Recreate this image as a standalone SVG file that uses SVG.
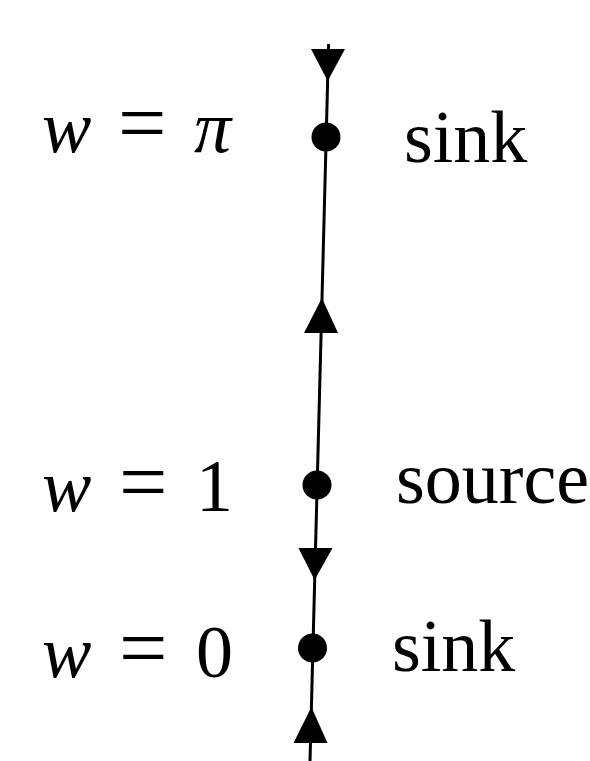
<svg xmlns="http://www.w3.org/2000/svg" width="590" height="761" viewBox="0 0 590 761">
<style>
.bg{fill:#ffffff}
.axis{stroke:#000;stroke-width:3;fill:none}
.arr{fill:#000}
.dot{fill:#000}
.lbl{font-family:"Liberation Serif","DejaVu Serif",serif;font-size:74px;fill:#000}
.it{font-style:italic}
.eq{font-size:86px}
</style>
<rect class="bg" x="0" y="0" width="590" height="761"/>
<g id="connectors">
<line class="axis" x1="328.6" y1="44" x2="310" y2="761"/>
<polygon class="arr" points="311,49 345,49 327.7,81"/>
<polygon class="arr" points="321.9,298 338,333 304,333"/>
<polygon class="arr" points="298.5,548 332.5,548 314.6,580"/>
<polygon class="arr" points="311.4,707 327.5,743 293.5,743"/>
</g>
<g id="node-pi">
<circle class="dot" cx="326" cy="137" r="14.5"/>
<text class="lbl" y="152"><tspan class="it" x="42">w</tspan><tspan class="eq" x="118">=</tspan><tspan class="it" x="194">π</tspan></text>
<text class="lbl" x="404" y="162">sink</text>
</g>
<g id="node-one">
<circle class="dot" cx="317" cy="485" r="14.5"/>
<text class="lbl" y="511"><tspan class="it" x="42">w</tspan><tspan class="eq" x="119">=</tspan><tspan x="196">1</tspan></text>
<text class="lbl" x="396" y="503">source</text>
</g>
<g id="node-zero">
<circle class="dot" cx="312.5" cy="648" r="14.5"/>
<text class="lbl" y="677"><tspan class="it" x="42">w</tspan><tspan class="eq" x="119">=</tspan><tspan x="196">0</tspan></text>
<text class="lbl" x="392" y="671">sink</text>
</g>
</svg>
